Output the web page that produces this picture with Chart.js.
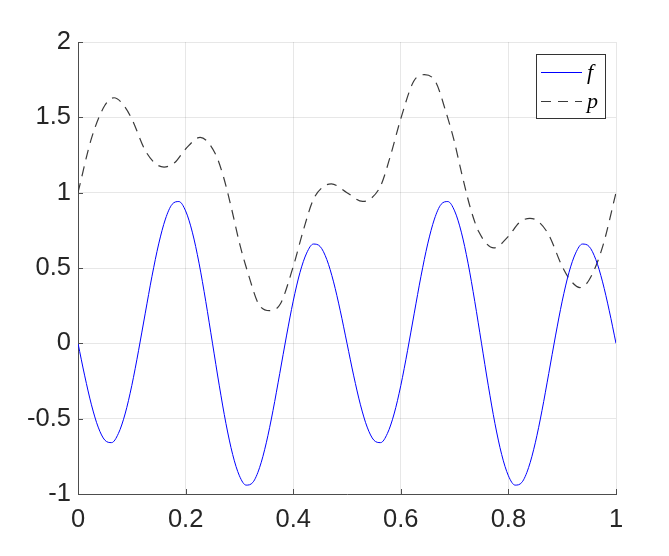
<!DOCTYPE html>
<html>
<head>
<meta charset="utf-8">
<script src="https://cdn.jsdelivr.net/npm/chart.js@4.4.1/dist/chart.umd.min.js"></script>
<style>
  html, body { margin: 0; padding: 0; background: #fff; }
  #wrap { width: 669px; height: 556px; }
</style>
</head>
<body>
<div id="wrap"><canvas id="chart" width="669" height="556"></canvas></div>
<script>
'use strict';

/* ===== DATA ===== */

// f, every 0.0125 from x = 0 to x = 1
const F_STEP = 0.0125;
const F_VALUES = [
  0, -0.216, -0.408, -0.556, -0.643, -0.659, -0.599, -0.469, -0.280, -0.049,
  0.200, 0.445, 0.660, 0.825, 0.923, 0.941, 0.879, 0.738, 0.532, 0.278,
  0, -0.278, -0.532, -0.738, -0.879, -0.941, -0.923, -0.825, -0.660, -0.445,
  -0.200, 0.049, 0.280, 0.469, 0.599, 0.659, 0.643, 0.556, 0.408, 0.216,
  0, -0.216, -0.408, -0.556, -0.643, -0.659, -0.599, -0.469, -0.280, -0.049,
  0.200, 0.445, 0.660, 0.825, 0.923, 0.941, 0.879, 0.738, 0.532, 0.278,
  0, -0.278, -0.532, -0.738, -0.879, -0.941, -0.923, -0.825, -0.660, -0.445,
  -0.200, 0.049, 0.280, 0.469, 0.599, 0.659, 0.643, 0.556, 0.408, 0.216,
  0
];

// p at its turning points and in between
const P_X = [
  0, 0.025, 0.05, 0.067, 0.085, 0.1, 0.125, 0.145, 0.16, 0.18,
  0.2, 0.227, 0.255, 0.27, 0.286, 0.301, 0.317, 0.335, 0.356, 0.376,
  0.4, 0.419, 0.437, 0.456, 0.471, 0.5, 0.529, 0.544, 0.563, 0.581,
  0.6, 0.624, 0.644, 0.665, 0.683, 0.699, 0.714, 0.73, 0.745, 0.773,
  0.8, 0.82, 0.84, 0.855, 0.875, 0.9, 0.915, 0.933, 0.95, 0.975, 1
];
const P_Y = [
  1.00, 1.36, 1.58, 1.63, 1.58, 1.49, 1.28, 1.19, 1.17, 1.20,
  1.29, 1.367, 1.26, 1.11, 0.885, 0.653, 0.454, 0.266, 0.217, 0.261,
  0.509, 0.752, 0.951, 1.04, 1.058, 1.00, 0.942, 0.96, 1.049, 1.248,
  1.491, 1.739, 1.783, 1.734, 1.546, 1.347, 1.115, 0.89, 0.74, 0.633,
  0.71, 0.80, 0.83, 0.81, 0.72, 0.51, 0.42, 0.37, 0.42, 0.64, 1.00
];

const SERIES_LABELS = ['f', 'p'];
const X_TICKS = [0, 0.2, 0.4, 0.6, 0.8, 1];
const Y_TICKS = [-1, -0.5, 0, 0.5, 1, 1.5, 2];

/* ===== STYLE ===== */

const AXIS_COLOR = '#4d4d4d';
const TEXT_COLOR = '#262626';
const GRID_COLOR = 'rgba(38,38,38,0.11)';
const TICK_FONT = { family: "'Liberation Sans', Arial, sans-serif", size: 25.5 };
const P_DASH = [10, 7];

const plainNumber = v => String(+Number(v).toFixed(2));

/* ===== PLUGINS ===== */

// MATLAB-style ticks that point into the axes
const inwardTicks = {
  id: 'inwardTicks',
  afterDraw(chart) {
    const { ctx, chartArea, scales } = chart;
    const len = 5;
    ctx.save();
    ctx.strokeStyle = AXIS_COLOR;
    ctx.lineWidth = 1;
    ctx.beginPath();
    scales.x.ticks.forEach(t => {
      const px = Math.round(scales.x.getPixelForValue(t.value)) + 0.5;
      ctx.moveTo(px, chartArea.bottom);
      ctx.lineTo(px, chartArea.bottom - len);
    });
    scales.y.ticks.forEach(t => {
      const py = Math.round(scales.y.getPixelForValue(t.value)) + 0.5;
      ctx.moveTo(chartArea.left, py);
      ctx.lineTo(chartArea.left + len, py);
    });
    ctx.stroke();
    ctx.restore();
  },
};

// boxed legend in the upper right corner
const boxLegend = {
  id: 'boxLegend',
  afterDraw(chart) {
    const { ctx, chartArea } = chart;
    const w = 69, h = 64;
    const x0 = chartArea.right - 80;
    const y0 = chartArea.top + 12;
    ctx.save();
    ctx.fillStyle = '#fff';
    ctx.fillRect(x0, y0, w, h);
    ctx.strokeStyle = '#333';
    ctx.lineWidth = 1;
    ctx.strokeRect(x0 + 0.5, y0 + 0.5, w, h);

    chart.data.datasets.forEach((ds, i) => {
      const y = Math.round(y0 + 18 + i * 29) + 0.5;
      ctx.beginPath();
      ctx.strokeStyle = ds.borderColor;
      ctx.lineWidth = ds.borderWidth;
      ctx.setLineDash(ds.borderDash || []);
      ctx.moveTo(x0 + 5, y);
      ctx.lineTo(x0 + 46, y);
      ctx.stroke();
      ctx.setLineDash([]);
      ctx.fillStyle = '#000';
      ctx.font = "italic 22px 'Liberation Serif', 'DejaVu Serif', serif";
      ctx.textBaseline = 'middle';
      ctx.textAlign = 'left';
      ctx.fillText(ds.label, x0 + 51, y + 1);
    });
    ctx.restore();
  },
};

/* ===== CHART ===== */

const fPoints = F_VALUES.map((v, i) => ({ x: i * F_STEP, y: v }));
const pPoints = P_X.map((x, i) => ({ x, y: P_Y[i] }));

new Chart(document.getElementById('chart').getContext('2d'), {
  type: 'line',
  data: {
    datasets: [
      {
        label: SERIES_LABELS[0],
        data: fPoints,
        borderColor: '#0000ff',
        borderWidth: 1,
        pointRadius: 0,
        cubicInterpolationMode: 'monotone',
      },
      {
        label: SERIES_LABELS[1],
        data: pPoints,
        borderColor: '#3a3a3a',
        borderWidth: 1.2,
        borderDash: P_DASH,
        pointRadius: 0,
        cubicInterpolationMode: 'monotone',
      },
    ],
  },
  options: {
    responsive: false,
    animation: false,
    layout: { padding: { top: 42, right: 53, left: 0, bottom: 0 } },
    plugins: {
      legend: { display: false },
      tooltip: { enabled: false },
    },
    scales: {
      x: {
        type: 'linear',
        min: 0,
        max: 1,
        afterBuildTicks(scale) { scale.ticks = X_TICKS.map(v => ({ value: v })); },
        afterFit(scale) { scale.height = 62; },
        grid: { color: GRID_COLOR, drawTicks: false },
        border: { color: AXIS_COLOR, width: 1 },
        ticks: { color: TEXT_COLOR, font: TICK_FONT, padding: 11, maxRotation: 0, callback: plainNumber },
      },
      y: {
        type: 'linear',
        min: -1,
        max: 2,
        afterBuildTicks(scale) { scale.ticks = Y_TICKS.map(v => ({ value: v })); },
        afterFit(scale) { scale.width = 78; },
        grid: { color: GRID_COLOR, drawTicks: false },
        border: { color: AXIS_COLOR, width: 1 },
        ticks: { color: TEXT_COLOR, font: TICK_FONT, padding: 7, callback: plainNumber },
      },
    },
  },
  plugins: [inwardTicks, boxLegend],
});
</script>
</body>
</html>
